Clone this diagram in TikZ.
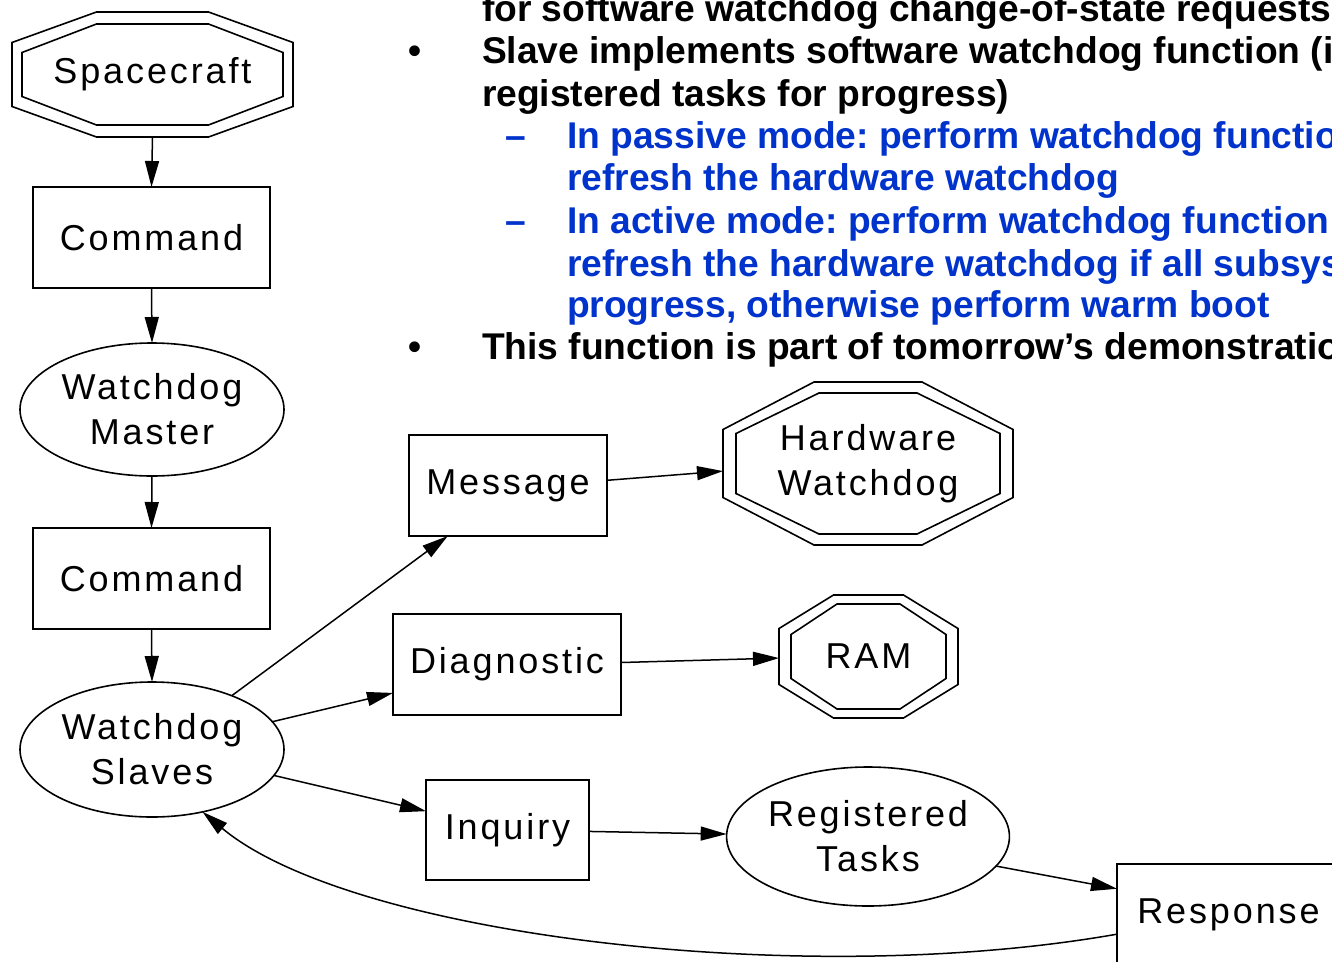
\documentclass[tikz,border=0pt]{standalone}
\usepackage{fontspec}
\setmainfont{Liberation Sans}
\newfontfamily\nodefont[LetterSpace=8]{Liberation Sans}
\usetikzlibrary{arrows.meta,calc,shapes.geometric}
\definecolor{itemblue}{HTML}{0033CC}
\frenchspacing

% octagon outline around a named node: centre, half width, half height,
% half length of the top edge, half length of the side edge
\newcommand\octoutline[5]{%
  \draw[octline] ($(#1)+(-#4,-#3)$) -- ($(#1)+(#4,-#3)$) -- ($(#1)+(#2,-#5)$)
    -- ($(#1)+(#2,#5)$) -- ($(#1)+(#4,#3)$) -- ($(#1)+(-#4,#3)$)
    -- ($(#1)+(-#2,#5)$) -- ($(#1)+(-#2,-#5)$) -- cycle;}

\tikzset{
  every node/.style={inner sep=0pt, outer sep=0pt},
  nodetext/.style={font=\nodefont\fontsize{36}{45}\selectfont, align=center},
  boxnode/.style={nodetext, draw, line width=2pt, rectangle},
  ovalnode/.style={nodetext, draw, line width=1.6pt, ellipse},
  octnode/.style={nodetext, rectangle},
  octline/.style={line width=1.6pt, line join=miter},
  link/.style={line width=1.5pt, -{Triangle[length=26pt,width=14pt]}},
  slide/.style={font=\bfseries\fontsize{37.2}{42}\selectfont, anchor=base west},
  bluetext/.style={slide, text=itemblue},
}

\begin{document}
\begin{tikzpicture}[x=1pt,y=-1pt]
\useasboundingbox (0,0) rectangle (1332,961);
\fill[white] (0,0) rectangle (1332,961);
\clip (0,0) rectangle (1332,961);

% bullet list
\node[slide] (t1) at (482,21) {for software watchdog change-of-state requests};
\node[slide] (b1) at (408,63) {•};
\node[slide] (t2) at (482,63) {Slave implements software watchdog function (i};
\node[slide] (t3) at (482,106) {registered tasks for progress)};
\node[bluetext] (d1) at (505,148) {–};
\node[bluetext] (t4) at (567,148) {In passive mode: perform watchdog functio};
\node[bluetext] (t5) at (567,190) {refresh the hardware watchdog};
\node[bluetext] (d2) at (505,233) {–};
\node[bluetext] (t6) at (567,233) {In active mode: perform watchdog function};
\node[bluetext] (t7) at (567,276) {refresh the hardware watchdog if all subsys};
\node[bluetext] (t8) at (567,317) {progress, otherwise perform warm boot};
\node[slide] (b2) at (408,359) {•};
\node[slide] (t9) at (482,359) {This function is part of tomorrow’s demonstratio};

% graph nodes
\node[octnode, minimum width=281pt, minimum height=125pt] (sc) at (152.5,74.5) {Spacecraft};
\octoutline{sc}{140.5}{62.5}{56}{32}
\octoutline{sc}{130.5}{50.5}{56}{22}

\node[boxnode, minimum width=237pt, minimum height=101pt] (cmd1) at (151.5,237.5) {Command};
\node[ovalnode, minimum width=264pt, minimum height=133pt] (wm) at (152,409.5) {Watchdog\\Master};
\node[boxnode, minimum width=237pt, minimum height=101pt] (cmd2) at (151.5,578.5) {Command};
\node[ovalnode, minimum width=264pt, minimum height=135pt] (ws) at (152,749.5) {Watchdog\\Slaves};

\node[boxnode, minimum width=198pt, minimum height=101pt] (msg) at (508,485.5) {Message};
\node[boxnode, minimum width=228pt, minimum height=101pt] (diag) at (507,664.5) {Diagnostic};
\node[boxnode, minimum width=163pt, minimum height=100pt] (inq) at (507.5,830) {Inquiry};

\node[octnode, minimum width=290pt, minimum height=163pt] (hw) at (868,463.5) {Hardware\\Watchdog};
\octoutline{hw}{145}{81.5}{54}{34}
\octoutline{hw}{132}{70.5}{49}{30}

\node[octnode, minimum width=179pt, minimum height=123pt] (ram) at (868.5,656.5) {RAM};
\octoutline{ram}{89.5}{61.5}{35}{28}
\octoutline{ram}{77.5}{52.5}{31.5}{22}

\node[ovalnode, minimum width=282pt, minimum height=139pt] (rt) at (868,836.5) {Registered\\Tasks};
\node[boxnode, minimum width=223pt, minimum height=101pt] (resp) at (1228.5,914.5) {Response};

% connectors
\draw[link] (sc.south) -- (cmd1.north);
\draw[link] (cmd1.south) -- (wm.north);
\draw[link] (wm.south) -- (cmd2.north);
\draw[link] (cmd2.south) -- (ws.north);
\draw[link] (ws.34.1) -- (msg.-140.8);
\draw[link] (ws.13.8) -- (diag.194);
\draw[link] (ws.-12.9) -- (inq.167.5);
\draw[link] (msg.3.2) -- (hw.183.4);
\draw[link] (diag.1.3) -- (ram.181.6);
\draw[link] (inq.-1.4) -- (rt.179.4);
\draw[link] (rt.-13.4) -- (resp.167.6);
\draw[link] (resp.190.4) .. controls (800,990) and (350,935) .. (ws.-51.9);
\end{tikzpicture}
\end{document}
